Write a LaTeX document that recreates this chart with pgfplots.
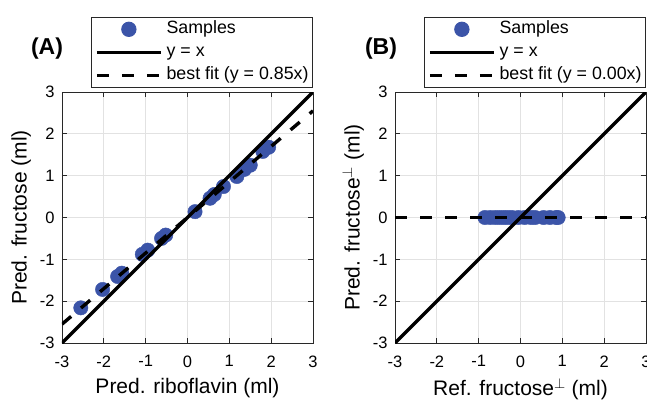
\documentclass[border=0pt]{standalone}
\usepackage{fontspec}
\setmainfont{Liberation Sans}
\usepackage{pgfplots}
\pgfplotsset{compat=1.18}

\definecolor{sampblue}{RGB}{59,84,168}
\definecolor{gridgray}{RGB}{226,226,226}
\definecolor{axgray}{RGB}{40,40,40}

\pgfplotsset{
  panel/.style={
    scale only axis, width=251pt, height=251pt,
    xmin=-3, xmax=3, ymin=-3, ymax=3,
    xtick={-3,...,3}, ytick={-3,...,3},
    grid=major, major grid style={gridgray, line width=0.8pt},
    axis line style={axgray, line width=0.9pt},
    tick style={axgray, line width=0.8pt}, major tick length=5pt,
    tick align=inside,
    clip mode=individual,
    /pgf/number format/assume math mode=true,
    ticklabel style={font=\fontsize{16.5}{20}\selectfont},
    xticklabel style={yshift=-9pt},
    yticklabel style={xshift=-4pt},
    label style={font=\fontsize{21}{24}\selectfont},
    xlabel style={yshift=-4pt},
    ylabel style={yshift=2pt},
    legend style={at={(rel axis cs:1,1)}, anchor=south east, yshift=4pt,
      font=\fontsize{17.8}{20}\selectfont, draw=axgray, line width=0.9pt,
      inner xsep=4pt, inner ysep=4pt, row sep=6.5pt, column sep=4pt,
      nodes={inner sep=0pt, text height=12.8pt, text depth=3.7pt}},
    legend cell align=left,
    legend image code/.code={\draw[mark repeat=2,mark phase=2,#1]
      plot coordinates {(0pt,0pt) (32pt,0pt) (64pt,0pt)};},
  },
  samp/.style={only marks, mark=*, mark size=7.2pt, sampblue, mark options={draw=sampblue, fill=sampblue}},
  unity/.style={black, line width=3.4pt},
  fit/.style={black, line width=3.4pt, dash pattern=on 12pt off 13pt},
}

\begin{document}
\begin{tikzpicture}
\begin{axis}[panel, xlabel={Pred. riboflavin (ml)}, ylabel={Pred. fructose (ml)}]
\addplot[samp] coordinates {
(-2.55,-2.16) (-2.03,-1.72) (-1.67,-1.41) (-1.57,-1.33)
(-1.08,-0.88) (-0.95,-0.78) (-0.62,-0.50) (-0.52,-0.42)
(0.18,0.14) (0.54,0.46) (0.64,0.55) (0.86,0.74)
(1.18,0.98) (1.36,1.15) (1.50,1.25) (1.80,1.58) (1.94,1.68)
};
\addlegendentry{Samples}
\addplot[unity] coordinates {(-3,-3) (3,3)};
\addlegendentry{y = x}
\addplot[fit] coordinates {(-3,-2.55) (3,2.55)};
\addlegendentry{best fit (y = 0.85x)}
\node[font=\bfseries\fontsize{23}{26}\selectfont] at ([xshift=-15pt,yshift=43pt]rel axis cs:0,1) {(A)};
\end{axis}
\begin{axis}[panel, xshift=333pt, xlabel={Ref. fructose$^{\perp}$ (ml)}, ylabel={Pred. fructose$^{\perp}$ (ml)}]
\addplot[samp] coordinates {
(-0.85,0) (-0.72,0) (-0.6,0) (-0.5,0) (-0.4,0) (-0.3,0) (-0.2,0)
(-0.05,0) (0.1,0) (0.25,0) (0.35,0) (0.55,0) (0.7,0) (0.85,0) (0.9,0)
};
\addlegendentry{Samples}
\addplot[unity] coordinates {(-3,-3) (3,3)};
\addlegendentry{y = x}
\addplot[fit] coordinates {(-3,0) (3,0)};
\addlegendentry{best fit (y = 0.00x)}
\node[font=\bfseries\fontsize{23}{26}\selectfont] at ([xshift=-14pt,yshift=43pt]rel axis cs:0,1) {(B)};
\end{axis}
\pgfresetboundingbox
\path[use as bounding box] (-62pt,-58pt) rectangle (585pt,343pt);
\end{tikzpicture}
\end{document}
